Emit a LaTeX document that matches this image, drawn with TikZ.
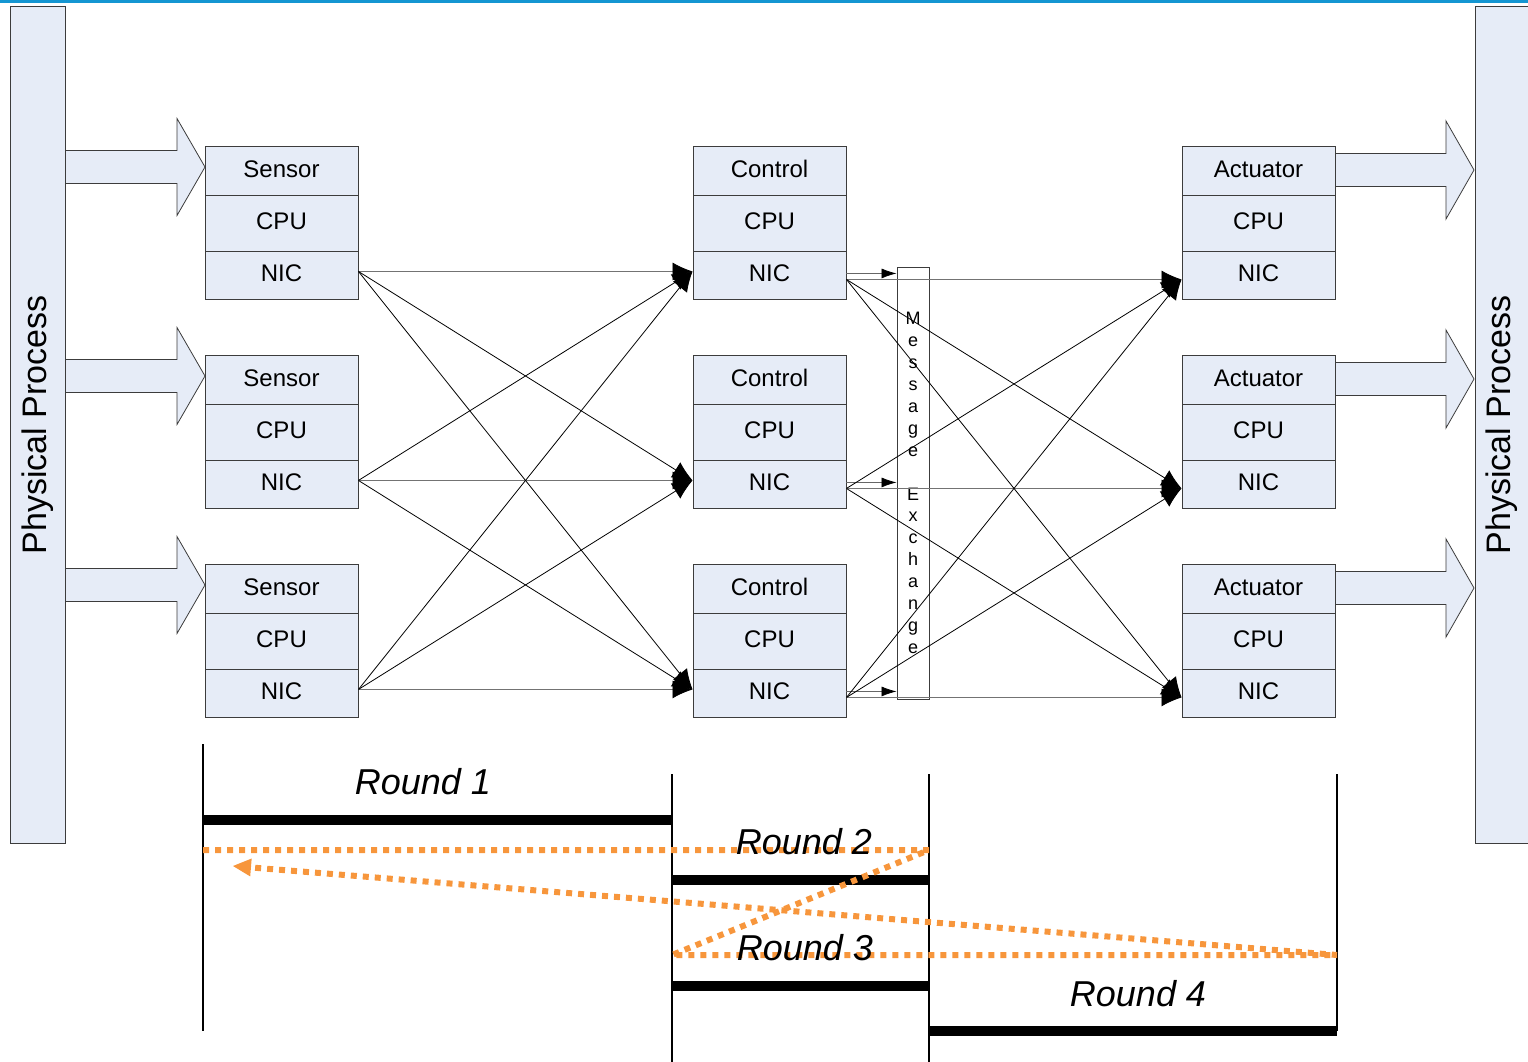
\documentclass[tikz,border=0pt]{standalone}
\usepackage{fontspec}
\setmainfont{Liberation Sans}
\usetikzlibrary{arrows.meta,calc}
\definecolor{boxfill}{RGB}{230,236,247}
\definecolor{edge}{RGB}{60,60,60}
\definecolor{roundorange}{RGB}{247,150,60}
\definecolor{topblue}{RGB}{20,150,210}
\begin{document}
\begin{tikzpicture}[x=1pt,y=-1pt,
  cell/.style={draw=edge, line width=0.9pt, fill=boxfill, minimum width=153pt,
    inner sep=0pt, anchor=north, text depth=4pt, font=\fontsize{24}{28}\selectfont},
  headcell/.style={cell, minimum height=49pt},
  cpucell/.style={cell, minimum height=56pt},
  niccell/.style={cell, minimum height=48pt},
  procbar/.style={draw=edge, line width=1pt, fill=boxfill, minimum width=55pt,
    minimum height=836pt, inner sep=0pt},
  proclabel/.style={rotate=90, font=\fontsize{34}{40}\selectfont},
  blockarrow/.style={draw=edge, line width=0.8pt, fill=boxfill, line join=miter},
  link/.style={line width=0.8pt, -{Latex[length=20pt,width=18pt,color=black]}},
  straightlink/.style={link, draw=black!55},
  shortlink/.style={line width=0.8pt, draw=black!60, -{Latex[length=15pt,width=10pt,color=black]}},
  msgbox/.style={draw=edge, line width=0.9pt, minimum width=32pt, minimum height=432pt,
    inner sep=0pt, align=center, font=\fontsize{18}{21.9}\selectfont},
  tick/.style={line width=2.2pt},
  roundbar/.style={line width=10pt},
  roundlabel/.style={font=\fontsize{36}{42}\selectfont\itshape},
  orangedot/.style={draw=roundorange, line width=6pt, dash pattern=on 6pt off 6pt}
]
\useasboundingbox (0,0) rectangle (1528,1062);

% thin blue rule along the top edge
\fill[topblue] (0,0) rectangle (1528,3);

% block arrows: process -> sensors, actuators -> process (drawn first, under the boxes)
\foreach \c in {167,376,585}
  \draw[blockarrow] (65,\c-16.5) -- (177,\c-16.5) -- (177,\c-48.5) -- (205,\c)
    -- (177,\c+48.5) -- (177,\c+16.5) -- (65,\c+16.5);
\foreach \c in {170,379,588}
  \draw[blockarrow] (1335,\c-16.5) -- (1446,\c-16.5) -- (1446,\c-49) -- (1474,\c)
    -- (1446,\c+49) -- (1446,\c+16.5) -- (1335,\c+16.5);

% physical process bars
\node[procbar] (pl) at (37.5,425) {};
\node[proclabel] (pltext) at (pl.center) {Physical Process};
\node[procbar, minimum width=60pt] (pr) at (1505,425) {};
\node[proclabel] (prtext) at (1501.5,425) {Physical Process};

% sensor / control / actuator stacks
\foreach \i/\t in {1/146,2/355,3/564} {
  \foreach \k/\x/\lab in {s/281.5/Sensor, c/769.5/Control, a/1258.5/Actuator} {
    \node[headcell] (\k\i-h) at (\x,\t) {\lab};
    \node[cpucell]  (\k\i-c) at (\x,\t+49) {CPU};
    \node[niccell]  (\k\i-n) at (\x,\t+105) {NIC};
  }
}

% message exchange column
\node[msgbox] (msg) at (913,483)
  {M\\e\\s\\s\\a\\g\\e\\ \\E\\x\\c\\h\\a\\n\\g\\e};

% sensors -> controls
\foreach \i in {1,2,3}
  \draw[straightlink] ($(s\i-n.east)+(0,-4)$) -- ($(c\i-n.west)+(0,-4)$);
\foreach \i/\j in {1/2,1/3,2/1,2/3,3/1,3/2}
  \draw[link] ($(s\i-n.east)+(0,-4)$) -- ($(c\j-n.west)+(0,-4)$);

% controls -> message exchange
\foreach \i in {1,2,3} {
  \coordinate (c\i-m) at ($(c\i-n.east)+(0,-2)$);
  \draw[shortlink] (c\i-m) -- (c\i-m -| msg.west);
}

% controls -> actuators
\foreach \i in {1,2,3}
  \draw[straightlink] ($(c\i-n.east)+(0,4)$) -- ($(a\i-n.west)+(0,4)$);
\foreach \i/\j in {1/2,1/3,2/1,2/3,3/1,3/2}
  \draw[link] ($(c\i-n.east)+(0,4)$) -- ($(a\j-n.west)+(0,4)$);

% round timeline
\draw[tick] (203,744) -- (203,1031);
\draw[tick] (672,774) -- (672,1062);
\draw[tick] (929,774) -- (929,1062);
\draw[tick] (1337,774) -- (1337,1031);
\draw[roundbar] (203,820) -- (672,820);
\draw[roundbar] (672,880) -- (929,880);
\draw[roundbar] (672,986) -- (929,986);
\draw[roundbar] (929,1031) -- (1337,1031);

\draw[orangedot, -{Triangle[length=18pt,width=18pt,line width=0pt]}]
  (203,850) -- (929,850) -- (672,955) -- (1337,955) -- (233,866);

\node[roundlabel] (r1) at (423,782) {Round 1};
\node[roundlabel] (r2) at (804,842) {Round 2};
\node[roundlabel] (r3) at (805,948) {Round 3};
\node[roundlabel] (r4) at (1138,994) {Round 4};
\end{tikzpicture}
\end{document}
